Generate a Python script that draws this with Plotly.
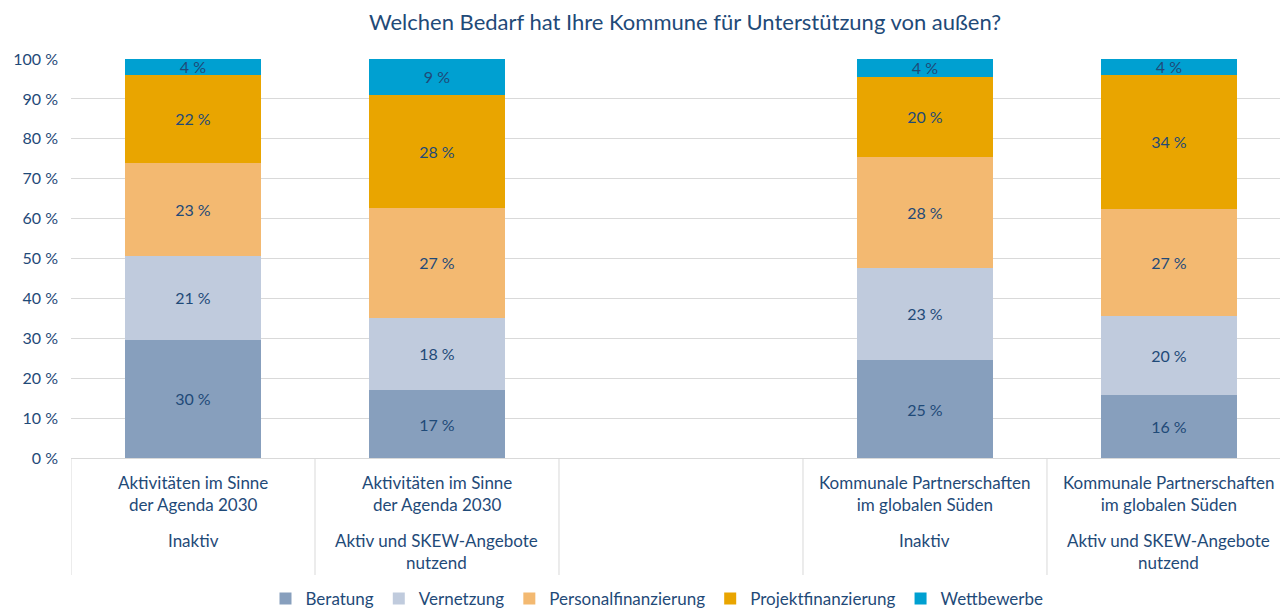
import plotly.graph_objects as go

# category labels (upper line group / lower line group); third slot is empty
cat_top = [
    "Aktivitäten im Sinne<br>der Agenda 2030",
    "Aktivitäten im Sinne<br>der Agenda 2030",
    "",
    "Kommunale Partnerschaften<br>im globalen Süden",
    "Kommunale Partnerschaften<br>im globalen Süden",
]
cat_bottom = [
    "Inaktiv",
    "Aktiv und SKEW-Angebote<br>nutzend",
    "",
    "Inaktiv",
    "Aktiv und SKEW-Angebote<br>nutzend",
]

# shares in percent
beratung = [29.7, 17.0, None, 24.5, 15.7]
vernetzung = [20.9, 18.2, None, 23.2, 19.9]
personal = [23.4, 27.4, None, 27.7, 26.8]
projekt = [22.1, 28.4, None, 20.2, 33.7]
wettbewerbe = [3.9, 9.0, None, 4.4, 3.9]

y_ticks = list(range(0, 101, 10))

series = [
    ("Beratung", beratung, "#879FBD"),
    ("Vernetzung", vernetzung, "#C0CBDD"),
    ("Personalfinanzierung", personal, "#F3B971"),
    ("Projektfinanzierung", projekt, "#E9A500"),
    ("Wettbewerbe", wettbewerbe, "#00A0D1"),
]

FONT = "Lato, 'Open Sans', sans-serif"
TXT = "#1F4A78"
GRID = "#D9D9D9"

x = list(range(len(cat_top)))

fig = go.Figure()
for name, vals, color in series:
    fig.add_trace(go.Bar(
        x=x, y=vals, name=name,
        marker=dict(color=color, line=dict(width=0)),
        width=0.557,
        texttemplate="%{y:.0f} %",
        textposition="inside",
        insidetextanchor="middle",
        textfont=dict(size=16, color=TXT, family=FONT),
        hovertemplate=name + ": %{y:.0f} %<extra></extra>",
    ))


def ypix(p):
    # pixel row -> paper y (plot area spans rows 59..458)
    return (458 - p) / 399


for i in x:
    fig.add_annotation(x=i, y=ypix(470), xref="x", yref="paper",
                       text=cat_top[i], showarrow=False, yanchor="top",
                       font=dict(size=17, color=TXT, family=FONT))
    fig.add_annotation(x=i, y=ypix(528), xref="x", yref="paper",
                       text=cat_bottom[i], showarrow=False, yanchor="top",
                       font=dict(size=17, color=TXT, family=FONT))

# separators of the category table
for b in [i - 0.5 for i in x]:
    fig.add_shape(type="line", xref="x", yref="paper",
                  x0=b, x1=b, y0=0, y1=ypix(575),
                  line=dict(color=GRID, width=1))

fig.update_layout(
    width=1280, height=612,
    barmode="stack",
    plot_bgcolor="white", paper_bgcolor="white",
    margin=dict(l=71, r=0, t=59, b=154),
    font=dict(family=FONT, color=TXT),
    title=dict(text="Welchen Bedarf hat Ihre Kommune für Unterstützung von außen?",
               x=685 / 1280, xanchor="center", y=1 - 22 / 612, yanchor="middle",
               font=dict(size=22, color=TXT, family=FONT)),
    uniformtext=dict(minsize=16, mode="show"),
    showlegend=True,
    legend=dict(orientation="h", xref="paper", x=(657 - 71) / 1209, xanchor="center",
                yref="container", y=13 / 612, yanchor="middle",
                font=dict(size=17, color=TXT, family=FONT),
                itemclick=False, traceorder="normal"),
)
fig.update_xaxes(range=[-0.5, 4.455], showticklabels=False, showgrid=False,
                 zeroline=False, showline=False, fixedrange=True)
fig.update_yaxes(range=[0, 100], tickvals=y_ticks,
                 ticktext=[f"{v} %" for v in y_ticks],
                 showgrid=True, gridcolor=GRID, gridwidth=1, zeroline=True,
                 zerolinecolor=GRID, zerolinewidth=1, showline=False,
                 tickfont=dict(size=16, color=TXT, family=FONT),
                 ticklabelstandoff=12, fixedrange=True)

fig.write_html("out.html", config={"displayModeBar": False},
               post_script="document.body.style.margin='0';")
